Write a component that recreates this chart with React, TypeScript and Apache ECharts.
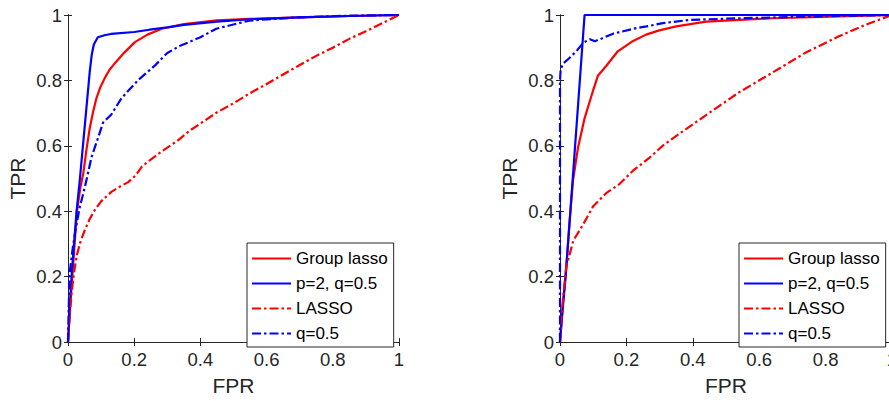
import React, { useEffect, useRef } from "react";
import * as echarts from "echarts";

// ---- Tick labels ----
const fprTicks = [0, 0.2, 0.4, 0.6, 0.8, 1];
const legendNames = ["Group lasso", "p=2, q=0.5", "LASSO", "q=0.5"];

// ---- Left panel ----
const leftGroupLassoFpr = [0, 0.006, 0.013, 0.02, 0.027, 0.037, 0.046, 0.056, 0.066, 0.076, 0.086, 0.098, 0.111, 0.125, 0.141, 0.17, 0.202, 0.24, 0.283, 0.35, 0.45, 0.55, 0.7, 0.85, 1];
const leftGroupLassoTpr = [0, 0.1, 0.2, 0.3, 0.4, 0.47, 0.515, 0.59, 0.656, 0.705, 0.746, 0.78, 0.807, 0.832, 0.852, 0.885, 0.917, 0.94, 0.958, 0.972, 0.984, 0.988, 0.993, 0.997, 1];

const leftP2Fpr = [0, 0.005, 0.012, 0.026, 0.036, 0.046, 0.056, 0.066, 0.072, 0.078, 0.09, 0.11, 0.13, 0.2, 0.246, 0.3, 0.35, 0.45, 0.55, 0.7, 0.85, 1];
const leftP2Tpr = [0, 0.1, 0.22, 0.4, 0.5, 0.61, 0.72, 0.83, 0.88, 0.91, 0.932, 0.938, 0.942, 0.948, 0.955, 0.962, 0.97, 0.98, 0.987, 0.993, 0.997, 1];

const leftLassoFpr = [0, 0.005, 0.011, 0.018, 0.026, 0.037, 0.051, 0.065, 0.081, 0.1, 0.131, 0.16, 0.182, 0.205, 0.222, 0.246, 0.286, 0.33, 0.367, 0.4, 0.448, 0.5, 0.548, 0.6, 0.65, 0.7, 0.75, 0.8, 0.85, 0.9, 0.95, 1];
const leftLassoTpr = [0, 0.08, 0.152, 0.21, 0.263, 0.305, 0.343, 0.375, 0.404, 0.43, 0.459, 0.477, 0.489, 0.51, 0.535, 0.555, 0.585, 0.615, 0.646, 0.668, 0.701, 0.73, 0.76, 0.789, 0.818, 0.847, 0.875, 0.9, 0.927, 0.95, 0.975, 1];

const leftQ05Fpr = [0, 0.002, 0.005, 0.012, 0.021, 0.035, 0.051, 0.059, 0.071, 0.091, 0.106, 0.131, 0.162, 0.212, 0.262, 0.3, 0.337, 0.4, 0.448, 0.548, 0.7, 0.85, 1];
const leftQ05Tpr = [0, 0.1, 0.21, 0.27, 0.333, 0.41, 0.474, 0.51, 0.565, 0.625, 0.671, 0.696, 0.746, 0.801, 0.845, 0.884, 0.905, 0.932, 0.958, 0.983, 0.993, 0.998, 1];

// ---- Right panel ----
const rightGroupLassoFpr = [0, 0.009, 0.019, 0.029, 0.039, 0.054, 0.074, 0.089, 0.1, 0.114, 0.139, 0.174, 0.219, 0.259, 0.299, 0.35, 0.44, 0.64, 0.84, 1];
const rightGroupLassoTpr = [0, 0.12, 0.232, 0.37, 0.493, 0.593, 0.684, 0.734, 0.77, 0.814, 0.844, 0.889, 0.92, 0.94, 0.953, 0.965, 0.98, 0.99, 0.996, 1];

const rightP2Fpr = [0, 0.008, 0.017, 0.074, 0.3, 1];
const rightP2Tpr = [0, 0.1, 0.2, 1, 1, 1];

const rightLassoFpr = [0, 0.004, 0.009, 0.019, 0.04, 0.07, 0.1, 0.139, 0.179, 0.219, 0.269, 0.309, 0.34, 0.44, 0.54, 0.64, 0.74, 0.84, 0.92, 1];
const rightLassoTpr = [0, 0.07, 0.13, 0.23, 0.31, 0.36, 0.415, 0.455, 0.483, 0.523, 0.563, 0.6, 0.623, 0.694, 0.764, 0.824, 0.885, 0.935, 0.97, 1];

const rightQ05Fpr = [0, 0, 0, 0.002, 0.01, 0.03, 0.05, 0.07, 0.09, 0.105, 0.13, 0.16, 0.23, 0.26, 0.31, 0.39, 0.54, 0.84, 1];
const rightQ05Tpr = [0, 0.4, 0.8, 0.835, 0.852, 0.87, 0.89, 0.915, 0.926, 0.92, 0.93, 0.943, 0.96, 0.965, 0.975, 0.985, 0.99, 0.997, 1];

const RED = "#ff0000";
const BLUE = "#0000ff";
const AXIS = "#262626";
const FONT = "'Liberation Sans', Arial, Helvetica, sans-serif";
const DASHDOT = [9, 3, 2.5, 3];
const LW = 2.2;

const zip = (xs: number[], ys: number[]) => xs.map((x, i) => [x, ys[i]]);

export default function App() {
  const ref = useRef<HTMLDivElement>(null);
  useEffect(() => {
    if (!ref.current) return;
    const chart = echarts.init(ref.current, undefined, { renderer: "svg" });

    const grids = [
      { left: 68, top: 15, width: 331, height: 332 },
      { left: 560, top: 15, width: 332, height: 332 },
    ];

    const xAxes: any[] = [];
    const yAxes: any[] = [];
    grids.forEach((_, gi) => {
      const common = {
        type: "value",
        min: fprTicks[0],
        max: fprTicks[fprTicks.length - 1],
        interval: 0.2,
        gridIndex: gi,
        splitLine: { show: false },
        axisLine: { show: true, lineStyle: { color: AXIS, width: 1 } },
        axisTick: { show: true, inside: true, length: 4, lineStyle: { color: AXIS } },
      };
      xAxes.push({
        ...common,
        position: "bottom",
        name: "FPR",
        nameLocation: "middle",
        nameGap: 33,
        nameTextStyle: { color: AXIS, fontSize: 21, fontFamily: FONT },
        axisLabel: { show: true, color: AXIS, fontSize: 18.5, fontFamily: FONT, margin: 8, showMinLabel: true, showMaxLabel: true },
      });
      xAxes.push({ ...common, position: "top", axisLabel: { show: false } });
      yAxes.push({
        ...common,
        position: "left",
        name: "TPR",
        nameLocation: "middle",
        nameGap: 40,
        nameRotate: 90,
        nameTextStyle: { color: AXIS, fontSize: 21, fontFamily: FONT },
        axisLabel: { show: true, color: AXIS, fontSize: 18.5, fontFamily: FONT, margin: 6, showMinLabel: true, showMaxLabel: true },
      });
      yAxes.push({ ...common, position: "right", axisLabel: { show: false } });
    });

    const panels = [
      {
        gl: zip(leftGroupLassoFpr, leftGroupLassoTpr),
        p2: zip(leftP2Fpr, leftP2Tpr),
        la: zip(leftLassoFpr, leftLassoTpr),
        q: zip(leftQ05Fpr, leftQ05Tpr),
      },
      {
        gl: zip(rightGroupLassoFpr, rightGroupLassoTpr),
        p2: zip(rightP2Fpr, rightP2Tpr),
        la: zip(rightLassoFpr, rightLassoTpr),
        q: zip(rightQ05Fpr, rightQ05Tpr),
      },
    ];

    const series: any[] = [];
    panels.forEach((p, gi) => {
      const base = {
        type: "line",
        xAxisIndex: gi * 2,
        yAxisIndex: gi * 2,
        symbol: "none",
        clip: false,
        smooth: false,
      };
      series.push({ ...base, name: legendNames[0], data: p.gl, lineStyle: { color: RED, width: LW }, itemStyle: { color: RED } });
      series.push({ ...base, name: legendNames[1], data: p.p2, lineStyle: { color: BLUE, width: LW }, itemStyle: { color: BLUE } });
      series.push({ ...base, name: legendNames[2], data: p.la, lineStyle: { color: RED, width: LW, type: DASHDOT }, itemStyle: { color: RED } });
      series.push({ ...base, name: legendNames[3], data: p.q, lineStyle: { color: BLUE, width: LW, type: DASHDOT }, itemStyle: { color: BLUE } });
    });

    const legendBase = {
      orient: "vertical",
      top: 243,
      width: 134,
      data: legendNames,
      itemWidth: 39,
      itemHeight: 14,
      itemGap: 8,
      padding: [7, 6, 5, 4],
      borderColor: AXIS,
      borderWidth: 1,
      backgroundColor: "#ffffff",
      selectedMode: false,
      itemStyle: { opacity: 0 },
      textStyle: { color: "#000", fontSize: 17, fontFamily: FONT },
    };

    chart.setOption({
      animation: false,
      backgroundColor: "#ffffff",
      grid: grids,
      xAxis: xAxes,
      yAxis: yAxes,
      legend: [
        { ...legendBase, left: 247 },
        { ...legendBase, left: 739 },
      ],
      series,
    });

    return () => chart.dispose();
  }, []);

  return (
    <div style={{ position: "absolute", left: 0, top: 0, width: 889, height: 401, overflow: "hidden", background: "#fff" }}>
      <div ref={ref} style={{ width: 905, height: 401 }} />
    </div>
  );
}
